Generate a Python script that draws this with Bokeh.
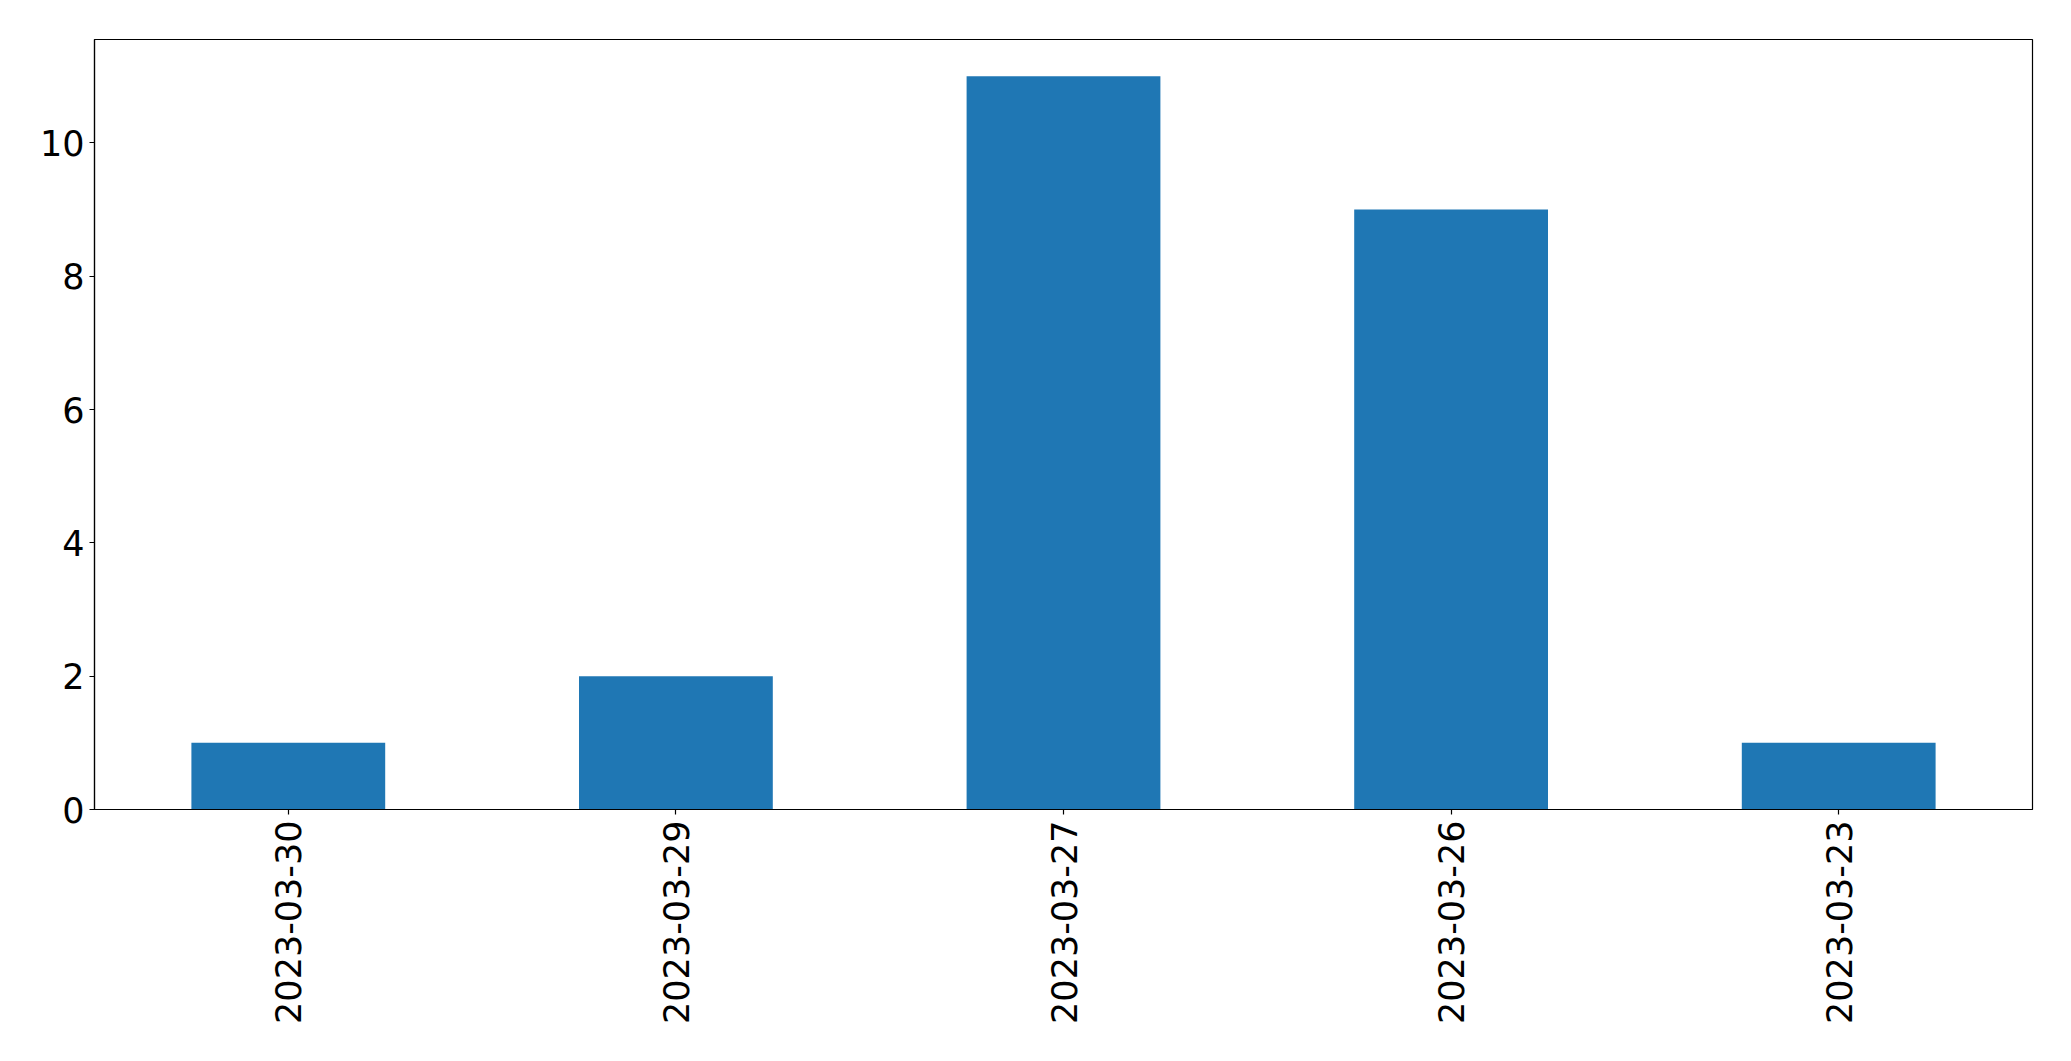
import math
from bokeh.plotting import figure
from bokeh.models import FactorRange, Range1d, FixedTicker
from bokeh.embed import file_html
from bokeh.resources import INLINE

dates = ["2023-03-30", "2023-03-29", "2023-03-27", "2023-03-26", "2023-03-23"]
counts = [1, 2, 11, 9, 1]
y_ticks = [0, 2, 4, 6, 8, 10]

p = figure(width=2055, height=1045, output_backend="svg", toolbar_location=None,
           x_range=FactorRange(*dates, range_padding=0), y_range=Range1d(0, 11.55),
           min_border_left=94, min_border_right=23, min_border_top=39, min_border_bottom=236)

p.vbar(x=dates, top=counts, width=0.5, color="#1f77b4", line_color=None)

p.xgrid.visible = False
p.ygrid.visible = False
p.outline_line_color = "black"
p.outline_line_alpha = 1.0
p.outline_line_width = 1.2
p.background_fill_color = "white"
p.border_fill_color = "white"

for ax in (p.xaxis[0], p.yaxis[0]):
    ax.axis_line_color = "black"
    ax.axis_line_width = 1.2
    ax.major_tick_line_color = "black"
    ax.major_tick_line_width = 1.2
    ax.major_tick_out = 5
    ax.major_tick_in = 0
    ax.minor_tick_line_color = None
    ax.major_label_text_font = "DejaVu Sans"
    ax.major_label_text_font_size = "35px"
    ax.major_label_text_color = "black"

p.yaxis[0].ticker = FixedTicker(ticks=y_ticks)
p.yaxis[0].major_label_standoff = 5
p.xaxis[0].major_label_orientation = math.pi / 2
p.xaxis[0].major_label_standoff = 6

open("out.html", "w").write(file_html(p, INLINE))
